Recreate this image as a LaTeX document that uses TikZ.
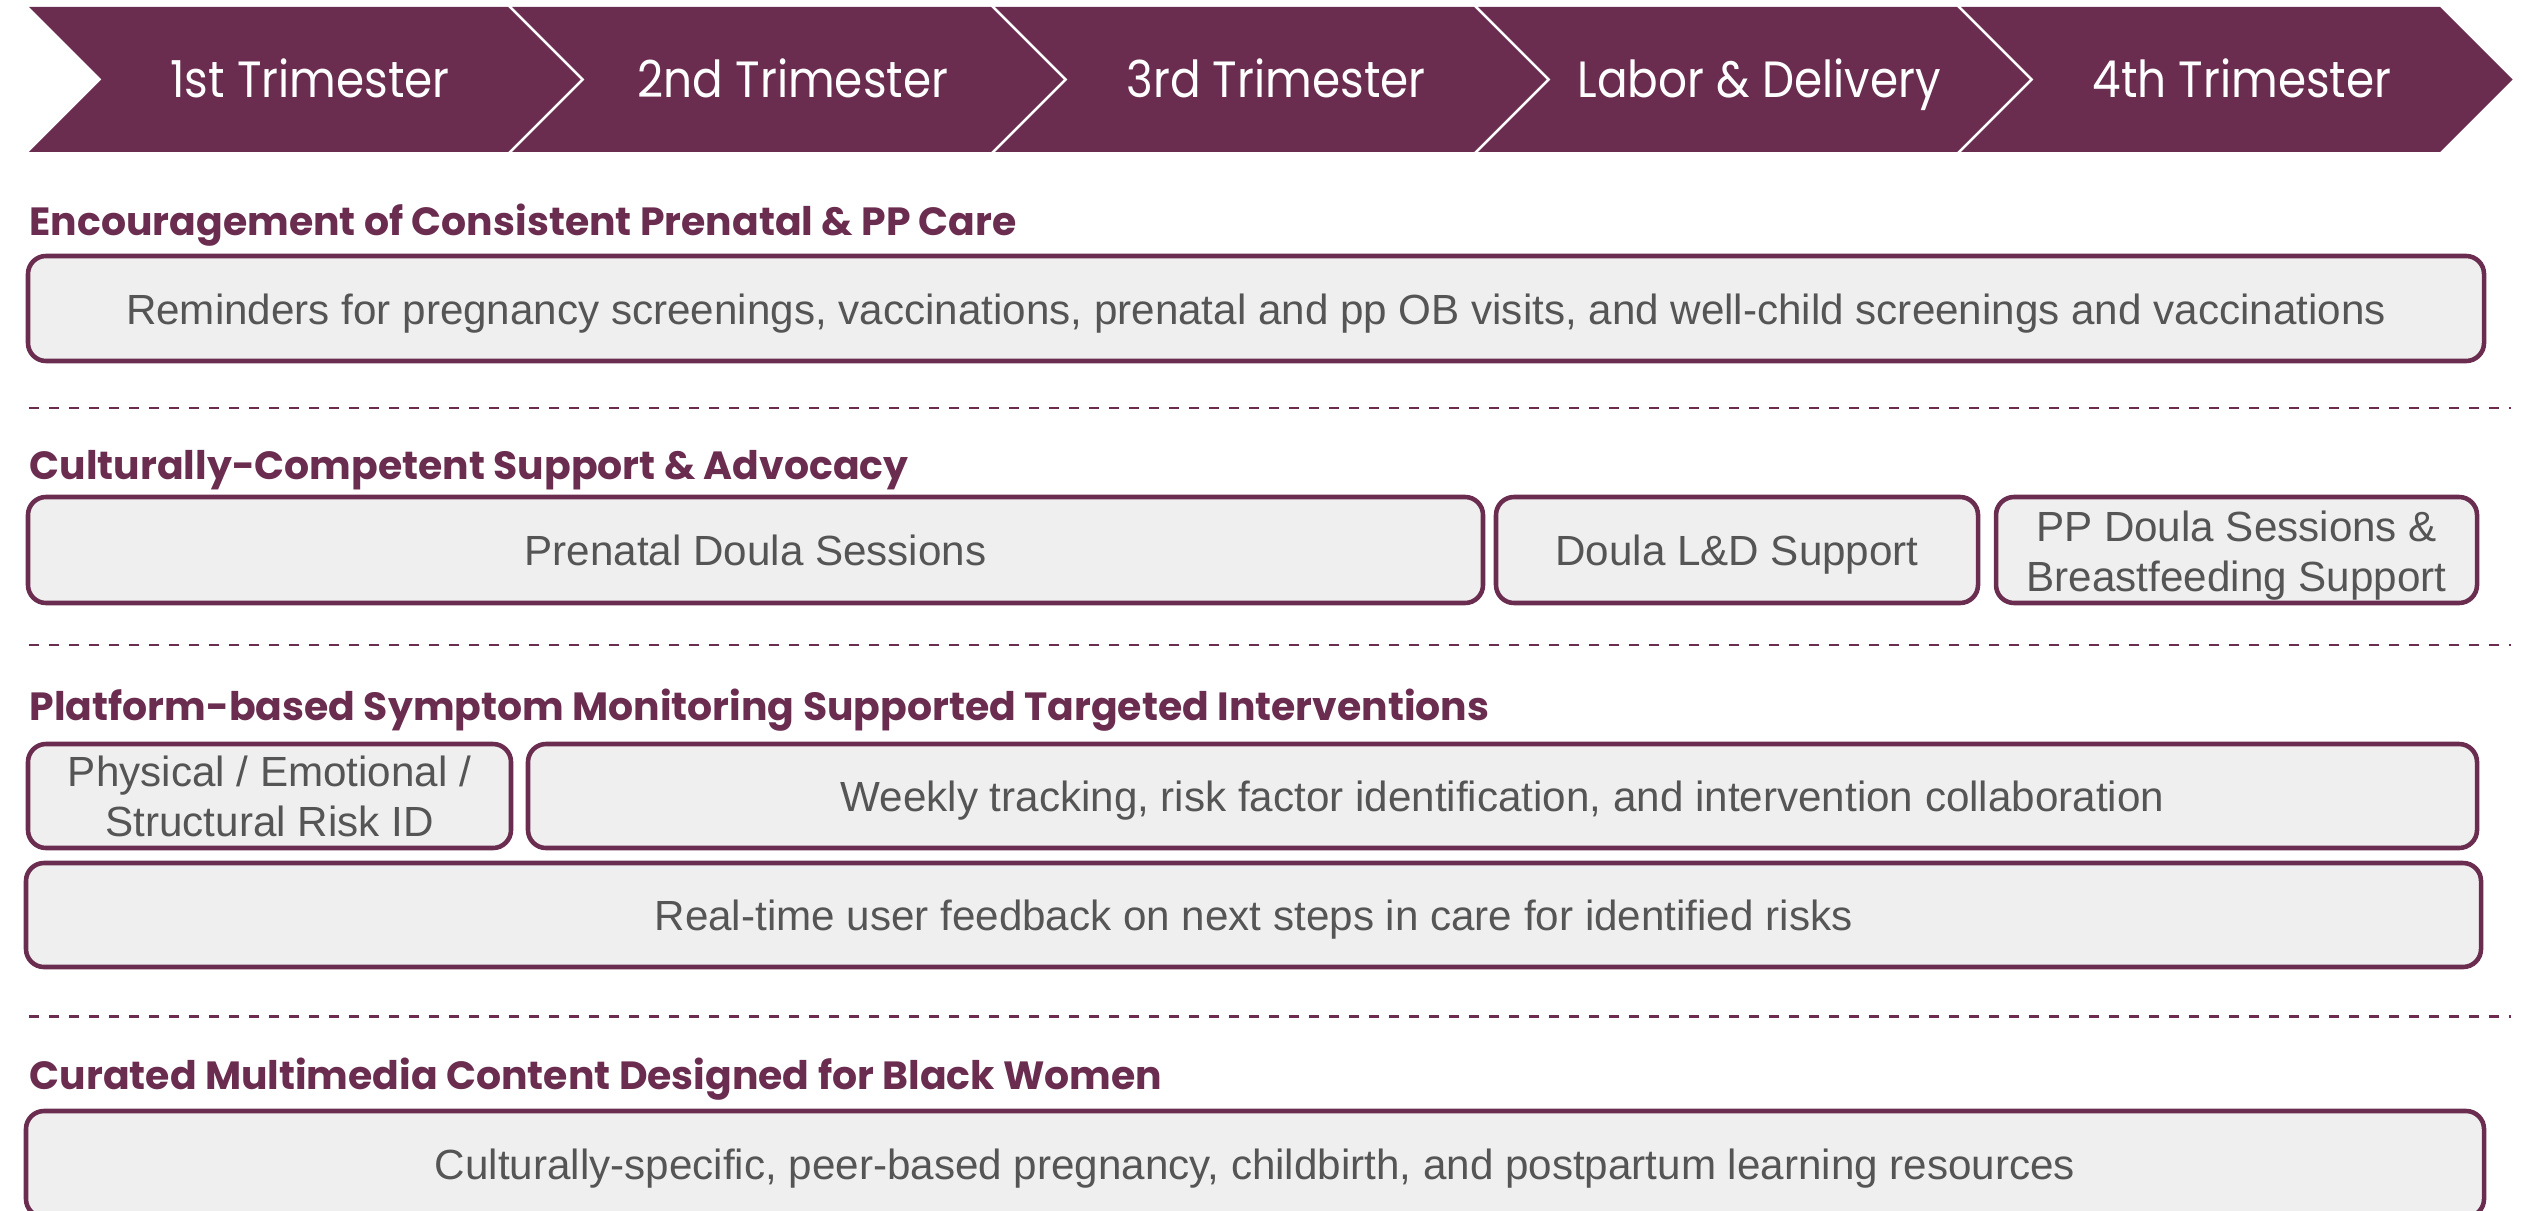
\documentclass[tikz,border=0pt]{standalone}
\usepackage{fontspec}
\setmainfont{Liberation Sans}
\newfontfamily\headfont{Poppins}
\newfontfamily\phasefont{Poppins}[FakeStretch=0.89]
\definecolor{plum}{HTML}{6A2C4F}
\definecolor{boxgray}{HTML}{EFEFEF}
\definecolor{txtgray}{HTML}{555555}
\begin{document}
\begin{tikzpicture}[
  box/.style={draw=plum,line width=1.3pt,fill=boxgray,rounded corners=0.18cm,
    text=txtgray,align=center,inner sep=0pt,font=\fontsize{12}{14.2}\selectfont},
  oneline/.style={box,text height=11.5pt,text depth=2.5pt},
  heading/.style={anchor=base west,inner sep=0pt,text=plum,
    font=\fontsize{11.2}{14}\headfont\bfseries},
  phase/.style={anchor=base,text=white,inner sep=0pt,font=\fontsize{14.5}{17}\phasefont},
  sep/.style={draw=plum,line width=0.85pt,dash pattern=on 0.1cm off 0.1cm}
]
\useasboundingbox (0,0) rectangle (25.24,-12.10);
% phases
\foreach \i/\lab in {0/1st Trimester,1/2nd Trimester,2/3rd Trimester,3/Labor \& Delivery,4/4th Trimester}{
  \fill[plum] ({0.29+4.83*\i},-0.07) -- ++(4.79,0) -- ++(0.725,-0.725) -- ++(-0.725,-0.725)
    -- ++(-4.79,0) -- ++(0.725,0.725) -- cycle;
  \node[phase] (ph\i) at ({0.29+4.83*\i+2.81},-0.98) {\lab};
}
% care
\node[heading] (hcare) at (0.29,-2.36) {Encouragement of Consistent Prenatal \& PP Care};
\node[oneline,minimum width=24.56cm,minimum height=1.05cm] (remind) at (12.56,-3.085)
  {Reminders for pregnancy screenings, vaccinations, prenatal and pp OB visits, and well-child screenings and vaccinations};
\draw[sep] (0.29,-4.08) -- (25.11,-4.08);
% support
\node[heading] (hsupport) at (0.29,-4.79) {Culturally-Competent Support \& Advocacy};
\node[oneline,minimum width=14.55cm,minimum height=1.06cm] (prenatal) at (7.555,-5.50) {Prenatal Doula Sessions};
\node[oneline,minimum width=4.82cm,minimum height=1.06cm] (ldsupport) at (17.37,-5.50) {Doula L\&D Support};
\node[box,minimum width=4.81cm,minimum height=1.06cm] (ppdoula) at (22.365,-5.50)
  {\rule{0pt}{0.97em}PP Doula Sessions \&\\Breastfeeding Support};
\draw[sep] (0.29,-6.45) -- (25.11,-6.45);
% monitoring
\node[heading] (hmonitor) at (0.29,-7.20) {Platform-based Symptom Monitoring Supported Targeted Interventions};
\node[box,minimum width=4.83cm,minimum height=1.04cm] (riskid) at (2.695,-7.96)
  {Physical / Emotional /\\Structural Risk ID};
\node[oneline,minimum width=19.49cm,minimum height=1.04cm] (weekly) at (15.025,-7.96)
  {Weekly tracking, risk factor identification, and intervention collaboration};
\node[oneline,minimum width=24.55cm,minimum height=1.04cm] (feedback) at (12.535,-9.15)
  {Real-time user feedback on next steps in care for identified risks};
\draw[sep] (0.29,-10.16) -- (25.11,-10.16);
% content
\node[heading] (hcontent) at (0.29,-10.89) {Curated Multimedia Content Designed for Black Women};
\node[oneline,minimum width=24.58cm,minimum height=1.06cm] (media) at (12.55,-11.64)
  {Culturally-specific, peer-based pregnancy, childbirth, and postpartum learning resources};
\end{tikzpicture}
\end{document}
